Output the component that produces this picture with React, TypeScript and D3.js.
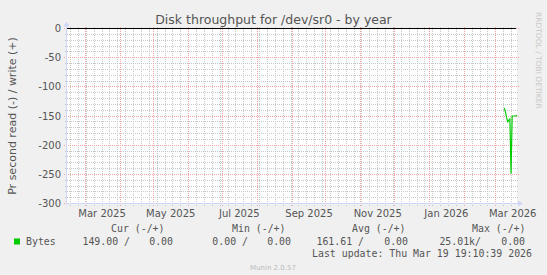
import React from 'react';
import * as d3 from 'd3';

const title = 'Disk throughput for /dev/sr0 - by year';
const yLabel = 'Pr second read (-) / write (+)';
const watermark = 'RRDTOOL / TOBI OETIKER';
const yTicks = [0, -50, -100, -150, -200, -250, -300];
const yDomain = [-300, 0];
const startTime = '2025-02-12T19:10:39Z';
const endTime = '2026-03-19T19:10:39Z';
const readDates = [
  '2026-03-08T12:00:00Z', '2026-03-09T12:00:00Z', '2026-03-10T12:00:00Z', '2026-03-11T12:00:00Z',
  '2026-03-12T12:00:00Z', '2026-03-13T12:00:00Z', '2026-03-14T12:00:00Z', '2026-03-15T12:00:00Z',
  '2026-03-16T12:00:00Z', '2026-03-17T12:00:00Z', '2026-03-18T12:00:00Z', '2026-03-19T19:00:00Z',
];
const readValues = [-136, -143, -152, -160, -157, -155, -249, -150, -150, -150, -150, -149];
const seriesName = 'Bytes';
const legendHeaders = ['Cur (-/+)', 'Min (-/+)', 'Avg (-/+)', 'Max (-/+)'];
const readStats = ['149.00 /', '0.00 /', '161.61 /', '25.01k/'];
const writeStats = ['0.00', '0.00', '0.00', '0.00'];
const lastUpdate = 'Last update: Thu Mar 19 19:10:39 2026';
const version = 'Munin 2.0.57';

const W = 547;
const H = 275;
const X0 = 67;
const X1 = 517;
const YT = 28.5;
const YB = 203.5;

const SANS = 'DejaVu Sans, sans-serif';
const MONO = 'DejaVu Sans Mono, monospace';
const FONT_COL = '#555555';
const AXIS_COL = '#CFD6F8';
const GRID_COL = '#C8C8C8';
const MGRID_COL = '#F4A4A4';
const LINE_COL = '#00CC00';

export default function App() {
  const t0 = new Date(startTime);
  const t1 = new Date(endTime);
  const x = d3.scaleUtc().domain([t0, t1]).range([X0, X1]);
  const y = d3.scaleLinear().domain(yDomain).range([YB, YT]);

  const px = (v: number) => Math.round(v - 0.5) + 0.5;

  const weeks = d3.utcSunday.range(t0, t1);
  const months = d3.utcMonth.range(t0, t1);
  const labelMonths = months.filter((m) => m.getUTCMonth() % 2 === 0);
  const minorY = d3.range(yDomain[0], yDomain[1] + 1, 10).filter((v) => v % 50 !== 0);

  const data = readDates.map((d, i) => ({ t: new Date(d), v: readValues[i] }));
  const line = d3
    .line<{ t: Date; v: number }>()
    .x((d) => x(d.t))
    .y((d) => y(d.v));

  const fmt = d3.utcFormat('%b %Y');
  const legendHeaderX = [111, 232, 352, 472];
  const readEndX = [130, 248, 364, 481];
  const writeEndX = [173, 291, 408, 525];

  return (
    <svg
      width={W}
      height={H}
      viewBox={`0 0 ${W} ${H}`}
      style={{ position: 'absolute', left: 0, top: 0 }}
    >
      <rect x={0} y={0} width={W} height={H} fill="#F0F0F0" />
      <rect x={X0} y={YT - 0.5} width={X1 - X0} height={YB - YT + 1} fill="#FFFFFF" />

      {/* minor vertical grid (weekly) */}
      {weeks.map((w, i) => (
        <line
          key={`wv${i}`}
          x1={px(x(w))}
          x2={px(x(w))}
          y1={YT - 2}
          y2={YB + 2}
          stroke={GRID_COL}
          strokeDasharray="1,1"
          shapeRendering="crispEdges"
        />
      ))}
      {/* minor horizontal grid */}
      {minorY.map((v) => (
        <line
          key={`mh${v}`}
          x1={X0 - 2}
          x2={X1 + 2}
          y1={px(y(v))}
          y2={px(y(v))}
          stroke={GRID_COL}
          strokeDasharray="1,1"
          shapeRendering="crispEdges"
        />
      ))}
      {/* major vertical grid (monthly) */}
      {months.map((m, i) => (
        <line
          key={`mv${i}`}
          x1={px(x(m))}
          x2={px(x(m))}
          y1={YT - 2}
          y2={YB + 3}
          stroke={MGRID_COL}
          strokeDasharray="1,1"
          shapeRendering="crispEdges"
        />
      ))}
      {/* major horizontal grid */}
      {yTicks.map((v) => (
        <line
          key={`Mh${v}`}
          x1={X0 - 3}
          x2={X1 + 2}
          y1={px(y(v))}
          y2={px(y(v))}
          stroke={MGRID_COL}
          strokeDasharray="1,1"
          shapeRendering="crispEdges"
        />
      ))}

      {/* zero rule */}
      <line x1={X0} x2={X1 - 1} y1={px(y(0))} y2={px(y(0))} stroke="#000000" shapeRendering="crispEdges" />

      {/* data */}
      <path d={line(data) || ''} fill="none" stroke={LINE_COL} strokeWidth={1.2} />

      {/* axes */}
      <line x1={X0 - 0.5} x2={X0 - 0.5} y1={YB + 1} y2={YT - 4} stroke={AXIS_COL} shapeRendering="crispEdges" />
      <path d={`M${X0 - 3.5},${YT - 2} L${X0 + 2.5},${YT - 2} L${X0 - 0.5},${YT - 7} Z`} fill={AXIS_COL} />
      <line x1={X0 - 1} x2={X1 + 2} y1={YB} y2={YB} stroke={AXIS_COL} shapeRendering="crispEdges" />
      <path d={`M${X1 + 1},${YB - 3} L${X1 + 1},${YB + 3} L${X1 + 6},${YB} Z`} fill={AXIS_COL} />

      {/* y tick labels */}
      {yTicks.map((v) => (
        <text
          key={`yt${v}`}
          x={61}
          y={y(v) + 3.5}
          textAnchor="end"
          fontFamily={SANS}
          fontSize={10}
          fill={FONT_COL}
        >
          {v}
        </text>
      ))}
      {/* x tick labels */}
      {labelMonths.map((m, i) => (
        <text
          key={`xt${i}`}
          x={x(d3.utcDay.offset(m, 15))}
          y={217}
          textAnchor="middle"
          fontFamily={SANS}
          fontSize={10}
          fill={FONT_COL}
        >
          {fmt(m)}
        </text>
      ))}

      {/* title */}
      <text x={273.5} y={24} textAnchor="middle" fontFamily={SANS} fontSize={12.5} fill={FONT_COL}>
        {title}
      </text>
      {/* y label */}
      <text
        transform={`translate(16,116) rotate(-90)`}
        textAnchor="middle"
        fontFamily={SANS}
        fontSize={11}
        fill={FONT_COL}
      >
        {yLabel}
      </text>
      {/* watermark */}
      <text
        transform={`translate(535.5,12) rotate(90)`}
        textAnchor="start"
        fontFamily={SANS}
        fontSize={7.5}
        fill="#C8C8C8"
      >
        {watermark}
      </text>

      {/* legend */}
      {legendHeaders.map((h, i) => (
        <text
          key={`lh${i}`}
          x={legendHeaderX[i]}
          y={231.5}
          fontFamily={MONO}
          fontSize={9.9}
          fill={FONT_COL}
          xmlSpace="preserve"
        >
          {h}
        </text>
      ))}
      <rect x={14} y={238.5} width={6} height={6} fill={LINE_COL} />
      <text x={26} y={244.5} fontFamily={MONO} fontSize={9.9} fill={FONT_COL}>
        {seriesName}
      </text>
      {readStats.map((s, i) => (
        <text
          key={`rs${i}`}
          x={readEndX[i]}
          y={244.5}
          textAnchor="end"
          fontFamily={MONO}
          fontSize={9.9}
          fill={FONT_COL}
          xmlSpace="preserve"
        >
          {s}
        </text>
      ))}
      {writeStats.map((s, i) => (
        <text
          key={`ws${i}`}
          x={writeEndX[i]}
          y={244.5}
          textAnchor="end"
          fontFamily={MONO}
          fontSize={9.9}
          fill={FONT_COL}
        >
          {s}
        </text>
      ))}
      <text x={532} y={257} textAnchor="end" fontFamily={MONO} fontSize={9.9} fill={FONT_COL} xmlSpace="preserve">
        {lastUpdate}
      </text>
      <text x={273} y={270} textAnchor="middle" fontFamily={SANS} fontSize={7} fill="#BBBBBB">
        {version}
      </text>
    </svg>
  );
}
